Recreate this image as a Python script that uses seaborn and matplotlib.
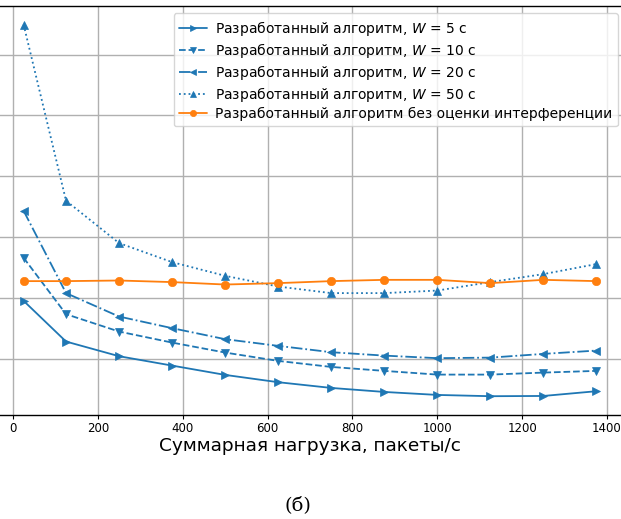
import numpy as np
import pandas as pd
import matplotlib
matplotlib.use("Agg")
import matplotlib.pyplot as plt
import seaborn as sns

# load values, packets/s
load = [25, 125, 250, 375, 500, 625, 750, 875, 1000, 1125, 1250, 1375]

# values (y labels are cropped in the reference)
w5 = [1.954, 1.285, 1.044, 0.890, 0.737, 0.617, 0.523, 0.457, 0.408, 0.387, 0.391, 0.469]
w10 = [2.661, 1.735, 1.449, 1.268, 1.104, 0.967, 0.868, 0.803, 0.742, 0.742, 0.775, 0.803]
w20 = [3.434, 2.081, 1.696, 1.505, 1.324, 1.214, 1.110, 1.054, 1.012, 1.021, 1.082, 1.137]
w50 = [6.493, 3.599, 2.903, 2.590, 2.365, 2.189, 2.081, 2.081, 2.123, 2.262, 2.393, 2.558]
no_interf = [2.278, 2.278, 2.288, 2.262, 2.222, 2.245, 2.278, 2.299, 2.299, 2.245, 2.299, 2.278]

labels = [
    "Разработанный алгоритм, $W$ = 5 с",
    "Разработанный алгоритм, $W$ = 10 с",
    "Разработанный алгоритм, $W$ = 20 с",
    "Разработанный алгоритм, $W$ = 50 с",
    "Разработанный алгоритм без оценки интерференции",
]
series = [w5, w10, w20, w50, no_interf]
markers = [">", "v", "<", "^", "o"]
linestyles = ["-", "--", "-.", ":", "-"]
colors = ["#1f77b4", "#1f77b4", "#1f77b4", "#1f77b4", "#ff7f0e"]

sns.set_style("ticks")
plt.rcParams["font.family"] = ["DejaVu Sans"]
plt.rcParams["text.color"] = "black"
plt.rcParams["axes.labelcolor"] = "black"
plt.rcParams["xtick.color"] = "black"

fig = plt.figure(figsize=(6.21, 5.19), dpi=100)
# the reference is cropped: left spine and right spine lie outside the picture
ax = fig.add_axes([-0.0081, 0.2008, 1.0146, 0.7876])

for vals, lab, m, ls, c in zip(series, labels, markers, linestyles, colors):
    df = pd.DataFrame({"x": load, "y": vals})
    sns.lineplot(data=df, x="x", y="y", ax=ax, marker=m, linestyle=ls,
                 color=c, label=lab, markersize=6, linewidth=1.3,
                 markeredgewidth=0.5, markeredgecolor=c)

ax.grid(True, color="#b0b0b0", linewidth=1.0)
ax.set_axisbelow(True)
for s in ax.spines.values():
    s.set_color("black")
    s.set_linewidth(1.0)
ax.set_xticks([0, 200, 400, 600, 800, 1000, 1200, 1400])
ax.tick_params(axis="x", labelsize=8.5, length=3, pad=2.5)
ax.tick_params(axis="y", left=False, labelleft=False)
ax.set_xlabel("Суммарная нагрузка, пакеты/с", fontsize=13.3, labelpad=1)
ax.set_ylabel("")

ax.legend(loc="upper right", fontsize=10, markerscale=0.75, framealpha=0.8,
          handlelength=2.0, labelspacing=0.22, handletextpad=0.6)

fig.text(0.48, 0.027, "(б)", fontsize=14, family="DejaVu Serif", ha="center", va="center")

fig.savefig("out.png", dpi=100)
